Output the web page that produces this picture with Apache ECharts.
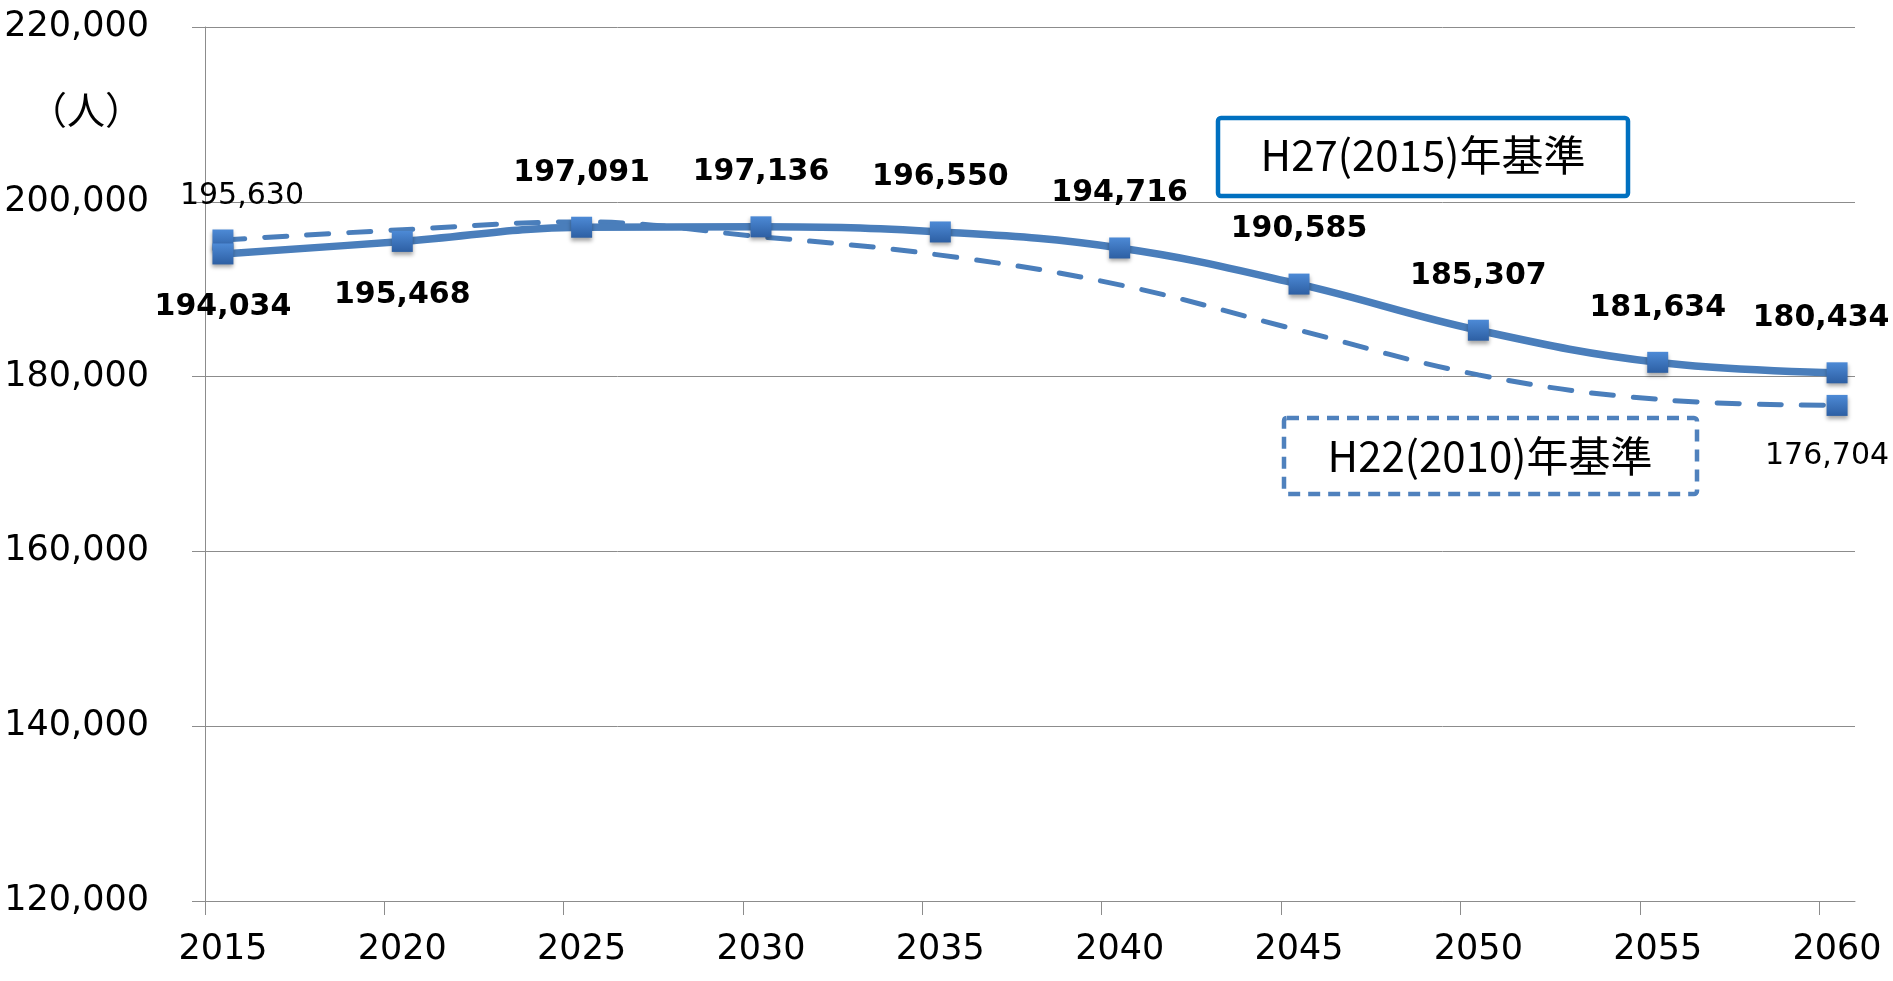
<!DOCTYPE html>
<html><head><meta charset="utf-8">
<script src="https://cdn.jsdelivr.net/npm/echarts@6/dist/echarts.min.js"></script>
<style>html,body{margin:0;padding:0;background:#fff}#c{width:1893px;height:981px}</style>
</head><body><div id="c"></div>
<script>
// ---- data ----
const years = [2015, 2020, 2025, 2030, 2035, 2040, 2045, 2050, 2055, 2060];
const h27 = [194034, 195468, 197091, 197136, 196550, 194716, 190585, 185307, 181634, 180434];
const h22 = [195630, 196800, 197700, 196000, 193900, 190500, 185300, 180200, 177400, 176704];
const h27Name = 'H27(2015)年基準';
const h22Name = 'H22(2010)年基準';
const yUnit = '（人）';
const yMin = 120000, yMax = 220000, yStep = 20000;

// ---- chart ----
const fmt = v => Number(v).toLocaleString('en-US');
const lineColor = '#4A7EBB';
const gridColor = '#8C8C8C';
const markerFill = new echarts.graphic.LinearGradient(0, 0, 0, 1, [
  {offset: 0, color: '#4D8AD6'}, {offset: 1, color: '#2D5FA3'}
]);
const last = years.length - 1;

const h27Data = years.map((y, i) => {
  const below = i < 2;
  return {
    value: [y, h27[i]],
    label: {
      position: below ? 'bottom' : 'top',
      distance: below ? 28 : 29,
      offset: i === last ? [-16, 0] : [0, 0]
    }
  };
});
const h22Data = years.map((y, i) => {
  const end = (i === 0 || i === last);
  return {
    value: [y, h22[i]],
    symbol: end ? 'rect' : 'none',
    label: {
      show: end,
      position: i === 0 ? 'top' : 'bottom',
      distance: i === 0 ? 18 : 25,
      offset: i === 0 ? [19, 0] : [-10, 0]
    }
  };
});

const chart = echarts.init(document.getElementById('c'), null, {renderer: 'canvas'});
chart.setOption({
  animation: false,
  backgroundColor: '#fff',
  grid: {left: 205, right: 38, top: 27, bottom: 80},
  xAxis: {
    type: 'value',
    min: 2014.5, max: 2060.5,
    axisLine: {show: true, lineStyle: {color: gridColor, width: 1}},
    axisTick: {show: true, customValues: years.map(y => y - 0.5), length: 14, lineStyle: {color: gridColor}},
    axisLabel: {
      customValues: years, formatter: v => String(v),
      fontFamily: 'DejaVu Sans', fontSize: 35, color: '#000', margin: 31
    },
    splitLine: {show: false}
  },
  yAxis: {
    type: 'value',
    min: yMin, max: yMax, interval: yStep,
    axisLine: {show: true, lineStyle: {color: gridColor, width: 1}},
    axisTick: {show: true, length: 13, lineStyle: {color: gridColor}},
    axisLabel: {
      formatter: v => fmt(v), fontFamily: 'DejaVu Sans', fontSize: 35, color: '#000',
      margin: 56, padding: [0, 0, 12, 0]
    },
    splitLine: {show: true, lineStyle: {color: gridColor, width: 1}}
  },
  series: [
    {
      name: h22Name, type: 'line', smooth: 0.4,
      data: h22Data,
      symbol: 'rect', symbolSize: 21,
      lineStyle: {color: lineColor, width: 5, type: [22, 20], cap: 'round'},
      itemStyle: {color: markerFill, shadowBlur: 4, shadowColor: 'rgba(0,0,0,0.35)', shadowOffsetY: 3},
      label: {show: true, formatter: p => fmt(p.value[1]), fontFamily: 'DejaVu Sans', fontSize: 30, color: '#000'},
      emphasis: {disabled: true}, z: 2
    },
    {
      name: h27Name, type: 'line', smooth: 0.4,
      data: h27Data,
      symbol: 'rect', symbolSize: 21,
      lineStyle: {color: lineColor, width: 7.5},
      itemStyle: {color: markerFill, shadowBlur: 4, shadowColor: 'rgba(0,0,0,0.35)', shadowOffsetY: 3},
      label: {show: true, formatter: p => fmt(p.value[1]), fontFamily: 'DejaVu Sans', fontWeight: 'bold', fontSize: 30, color: '#000'},
      emphasis: {disabled: true}, z: 3
    }
  ],
  graphic: [
    {type: 'text', x: 86, y: 110, style: {text: yUnit, font: '38px "Noto Sans CJK JP"', fill: '#000', align: 'center', verticalAlign: 'middle'}},
    {type: 'rect', shape: {x: 1218, y: 118, width: 410, height: 78, r: 3}, style: {fill: '#fff', stroke: '#0070C0', lineWidth: 4.5}, z: 10},
    {type: 'text', x: 1423, y: 155, style: {text: h27Name, font: '42px "Noto Sans CJK JP"', fill: '#000', align: 'center', verticalAlign: 'middle'}, z: 11},
    {type: 'rect', shape: {x: 1284, y: 418, width: 413, height: 76, r: 3}, style: {fill: '#fff', stroke: '#4F81BD', lineWidth: 4.5, lineDash: [12, 8]}, z: 10},
    {type: 'text', x: 1490, y: 456, style: {text: h22Name, font: '42px "Noto Sans CJK JP"', fill: '#000', align: 'center', verticalAlign: 'middle'}, z: 11}
  ]
});
</script>
</body></html>
